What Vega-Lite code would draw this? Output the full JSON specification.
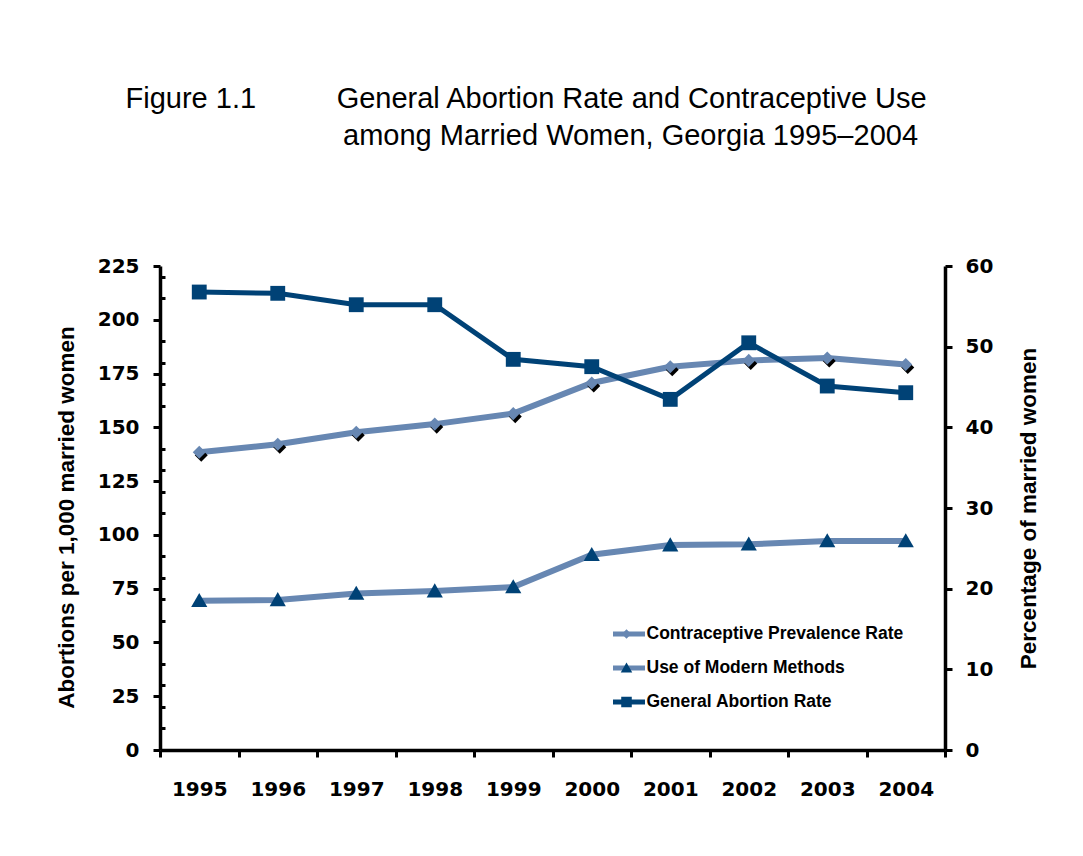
{
  "$schema": "https://vega.github.io/schema/vega-lite/v6.json",
  "autosize": {"type": "none"},
  "width": 785,
  "height": 484,
  "padding": {"left": 160, "top": 266, "right": 138, "bottom": 106},
  "background": "white",
  "config": {"view": {"stroke": null}},
  "title": {
    "text": [
      "Figure 1.1\u00a0\u00a0\u00a0\u00a0\u00a0\u00a0\u00a0\u00a0\u00a0\u00a0General Abortion Rate and Contraceptive Use",
      "\u200b\u00a0\u00a0\u00a0\u00a0\u00a0\u00a0\u00a0\u00a0\u00a0\u00a0\u00a0\u00a0\u00a0\u00a0\u00a0\u00a0\u00a0\u00a0\u00a0\u00a0\u00a0\u00a0\u00a0\u00a0\u00a0\u00a0\u00a0among Married Women, Georgia 1995–2004"
    ],
    "anchor": "start",
    "frame": "group",
    "dx": -34.5,
    "offset": 105,
    "font": "Liberation Sans",
    "fontSize": 29,
    "fontWeight": "normal",
    "color": "black",
    "lineHeight": 37
  },
  "data": {
    "values": [
      {"year": "1995", "series": "Contraceptive Prevalence Rate", "key": "a", "value": 36.9},
      {"year": "1996", "series": "Contraceptive Prevalence Rate", "key": "a", "value": 37.9},
      {"year": "1997", "series": "Contraceptive Prevalence Rate", "key": "a", "value": 39.4},
      {"year": "1998", "series": "Contraceptive Prevalence Rate", "key": "a", "value": 40.4},
      {"year": "1999", "series": "Contraceptive Prevalence Rate", "key": "a", "value": 41.7},
      {"year": "2000", "series": "Contraceptive Prevalence Rate", "key": "a", "value": 45.5},
      {"year": "2001", "series": "Contraceptive Prevalence Rate", "key": "a", "value": 47.5},
      {"year": "2002", "series": "Contraceptive Prevalence Rate", "key": "a", "value": 48.3},
      {"year": "2003", "series": "Contraceptive Prevalence Rate", "key": "a", "value": 48.6},
      {"year": "2004", "series": "Contraceptive Prevalence Rate", "key": "a", "value": 47.8},
      {"year": "1995", "series": "Use of Modern Methods", "key": "b", "value": 18.5},
      {"year": "1996", "series": "Use of Modern Methods", "key": "b", "value": 18.6},
      {"year": "1997", "series": "Use of Modern Methods", "key": "b", "value": 19.4},
      {"year": "1998", "series": "Use of Modern Methods", "key": "b", "value": 19.7},
      {"year": "1999", "series": "Use of Modern Methods", "key": "b", "value": 20.2},
      {"year": "2000", "series": "Use of Modern Methods", "key": "b", "value": 24.2},
      {"year": "2001", "series": "Use of Modern Methods", "key": "b", "value": 25.4},
      {"year": "2002", "series": "Use of Modern Methods", "key": "b", "value": 25.5},
      {"year": "2003", "series": "Use of Modern Methods", "key": "b", "value": 25.9},
      {"year": "2004", "series": "Use of Modern Methods", "key": "b", "value": 25.9},
      {"year": "1995", "series": "General Abortion Rate", "key": "c", "value": 212.9},
      {"year": "1996", "series": "General Abortion Rate", "key": "c", "value": 212.3},
      {"year": "1997", "series": "General Abortion Rate", "key": "c", "value": 207.0},
      {"year": "1998", "series": "General Abortion Rate", "key": "c", "value": 207.0},
      {"year": "1999", "series": "General Abortion Rate", "key": "c", "value": 181.6},
      {"year": "2000", "series": "General Abortion Rate", "key": "c", "value": 178.2},
      {"year": "2001", "series": "General Abortion Rate", "key": "c", "value": 163.0},
      {"year": "2002", "series": "General Abortion Rate", "key": "c", "value": 189.3},
      {"year": "2003", "series": "General Abortion Rate", "key": "c", "value": 169.2},
      {"year": "2004", "series": "General Abortion Rate", "key": "c", "value": 166.1}
    ]
  },
  "encoding": {
    "x": {
      "field": "year",
      "type": "ordinal",
      "bandPosition": 0.5,
      "scale": {"type": "band", "paddingInner": 0, "paddingOuter": 0},
      "axis": {
        "title": null,
        "labelAngle": 0,
        "tickBand": "extent",
        "tickSize": 7,
        "tickWidth": 3,
        "tickColor": "black",
        "domainColor": "black",
        "domainWidth": 3.5,
        "labelFont": "DejaVu Sans",
        "labelFontWeight": "bold",
        "labelFontSize": 20,
        "labelColor": "black",
        "labelPadding": 22,
        "grid": false
      }
    }
  },
  "layer": [
    {
      "encoding": {
        "y": {
          "field": "value",
          "type": "quantitative",
          "scale": {"domain": [0, 60], "nice": false, "zero": true},
          "axis": {
            "orient": "right",
            "values": [0, 10, 20, 30, 40, 50, 60],
            "title": "Percentage of married women",
            "titleAngle": 270,
            "titleFont": "Liberation Sans",
            "titleFontWeight": "bold",
            "titleFontSize": 22.5,
            "titleColor": "black",
            "titlePadding": 48,
            "labelFont": "DejaVu Sans",
            "labelFontWeight": "bold",
            "labelFontSize": 20,
            "labelColor": "black",
            "labelPadding": 13,
            "tickSize": 7,
            "tickWidth": 3,
            "tickColor": "black",
            "domainColor": "black",
            "domainWidth": 3.5,
            "grid": false
          }
        }
      },
      "layer": [
        {
          "transform": [{"filter": "datum.key !== 'c'"}],
          "mark": {"type": "line", "strokeWidth": 6},
          "encoding": {
            "stroke": {
              "field": "series",
              "type": "nominal",
              "scale": {
                "domain": ["Contraceptive Prevalence Rate", "Use of Modern Methods", "General Abortion Rate"],
                "range": ["#6787B2", "#6787B2", "#004276"]
              },
              "legend": {
                "orient": "none",
                "legendX": 450.5,
                "legendY": 352,
                "title": null,
                "padding": 0,
                "symbolType": "stroke",
                "symbolSize": 1024,
                "symbolStrokeWidth": 5,
                "clipHeight": 32,
                "labelFont": "Liberation Sans",
                "labelFontWeight": "bold",
                "labelFontSize": 17.5,
                "labelColor": "black",
                "labelLimit": 400,
                "labelOffset": -1,
                "rowPadding": 2
              }
            }
          }
        },
        {
          "transform": [{"filter": "datum.key === 'a'"}],
          "mark": {
            "type": "point",
            "filled": true,
            "opacity": 1,
            "fill": "black",
            "strokeWidth": 0,
            "size": 2025,
            "shape": "M0,-0.29L0.29,0L0,0.29L-0.29,0Z",
            "xOffset": 2,
            "yOffset": 3
          }
        },
        {
          "transform": [{"filter": "datum.key !== 'c'"}],
          "mark": {"type": "point", "filled": true, "opacity": 1, "strokeWidth": 0, "size": 2025},
          "encoding": {
            "fill": {
              "field": "key",
              "type": "nominal",
              "scale": {"domain": ["a", "b", "c"], "range": ["#6787B2", "#004276", "#004276"]},
              "legend": {
                "orient": "none",
                "legendX": 450.5,
                "legendY": 352,
                "title": null,
                "padding": 0,
                "symbolSize": 1024,
                "symbolStrokeWidth": 0,
                "symbolOpacity": 1,
                "clipHeight": 32,
                "labelExpr": "''",
                "labelFont": "Liberation Sans",
                "labelFontWeight": "bold",
                "labelFontSize": 17.5,
                "labelOffset": -1,
                "rowPadding": 2
              }
            },
            "shape": {
              "field": "key",
              "type": "nominal",
              "scale": {
                "domain": ["a", "b", "c"],
                "range": [
                  "M0,-0.29L0.29,0L0,0.29L-0.29,0Z",
                  "M0,-0.35L0.36,0.28L-0.36,0.28Z",
                  "M-0.33,-0.33H0.33V0.33H-0.33Z"
                ]
              },
              "legend": {
                "orient": "none",
                "legendX": 450.5,
                "legendY": 352,
                "title": null,
                "padding": 0,
                "symbolSize": 1024,
                "symbolStrokeWidth": 0,
                "symbolOpacity": 1,
                "clipHeight": 32,
                "labelExpr": "''",
                "labelFont": "Liberation Sans",
                "labelFontWeight": "bold",
                "labelFontSize": 17.5,
                "labelOffset": -1,
                "rowPadding": 2
              }
            }
          }
        }
      ]
    },
    {
      "transform": [{"filter": "datum.key === 'c'"}],
      "encoding": {
        "y": {
          "field": "value",
          "type": "quantitative",
          "scale": {"domain": [0, 225], "nice": false, "zero": true},
          "axis": {
            "orient": "left",
            "values": [0, 10, 20, 25, 30, 40, 50, 60, 70, 75, 80, 90, 100, 110, 120, 125, 130, 140, 150, 160, 170, 175, 180, 190, 200, 210, 220, 225],
            "labelExpr": "datum.value % 25 === 0 ? datum.label : ''",
            "title": "Abortions per 1,000 married women",
            "titleFont": "Liberation Sans",
            "titleFontWeight": "bold",
            "titleFontSize": 22.5,
            "titleColor": "black",
            "titlePadding": 19,
            "titleY": 251,
            "labelFont": "DejaVu Sans",
            "labelFontWeight": "bold",
            "labelFontSize": 20,
            "labelColor": "black",
            "labelPadding": 14,
            "tickSize": {"condition": {"test": "datum.value % 25 === 0", "value": 7}, "value": -5},
            "tickWidth": 3,
            "tickColor": "black",
            "domainColor": "black",
            "domainWidth": 3.5,
            "grid": false
          }
        }
      },
      "layer": [
        {
          "mark": {"type": "line", "strokeWidth": 5},
          "encoding": {
            "stroke": {
              "field": "series",
              "type": "nominal",
              "scale": {
                "domain": ["Contraceptive Prevalence Rate", "Use of Modern Methods", "General Abortion Rate"],
                "range": ["#6787B2", "#6787B2", "#004276"]
              }
            }
          }
        },
        {
          "mark": {"type": "point", "filled": true, "opacity": 1, "strokeWidth": 0, "size": 2025},
          "encoding": {
            "fill": {"field": "key", "type": "nominal"},
            "shape": {"field": "key", "type": "nominal"}
          }
        }
      ]
    }
  ],
  "resolve": {"scale": {"y": "independent"}}
}
